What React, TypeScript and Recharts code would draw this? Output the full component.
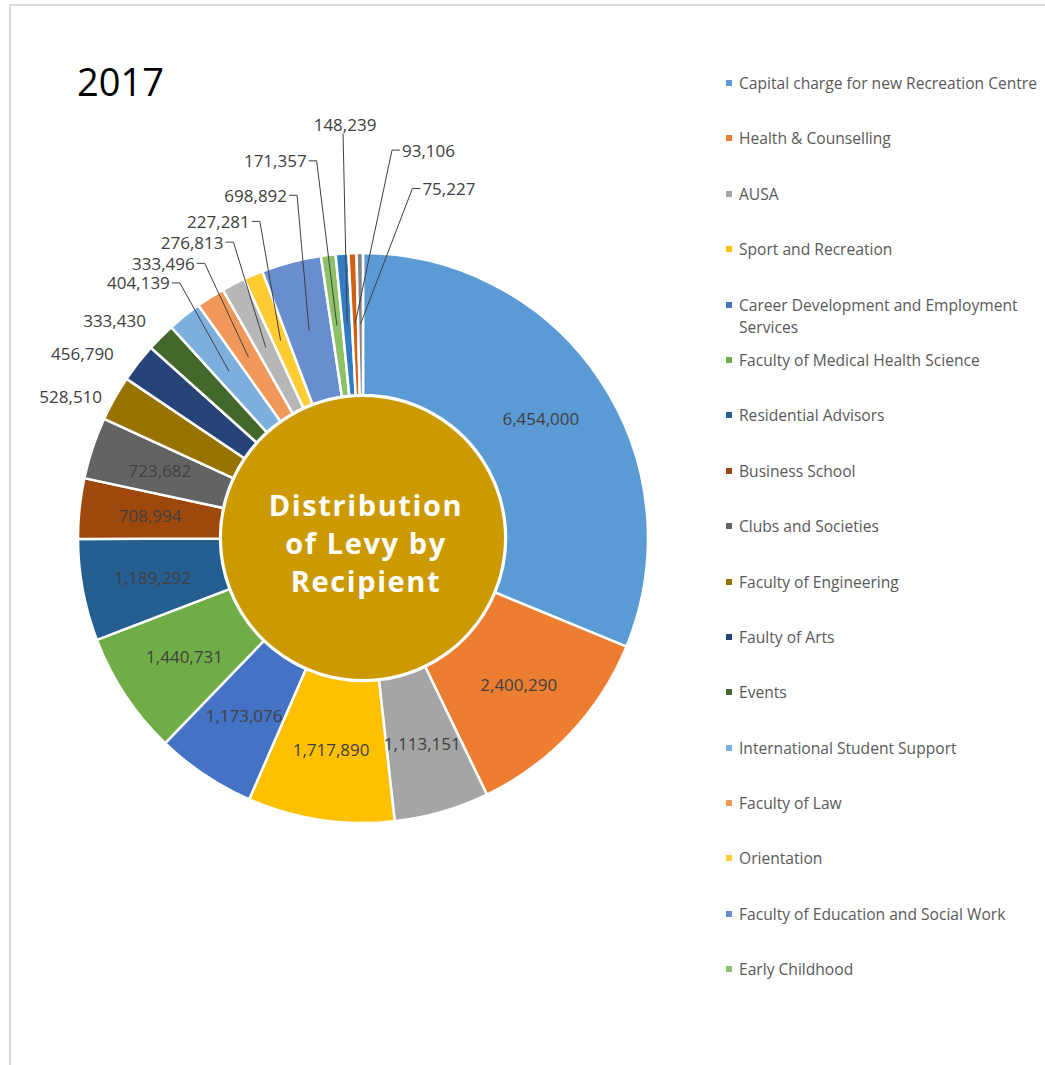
import React from "react";
import { PieChart, Pie, Cell } from "recharts";

// clockwise from 12 o'clock, same order as the slices in the picture
const recipients = [
  "Capital charge for new Recreation Centre",
  "Health & Counselling",
  "AUSA",
  "Sport and Recreation",
  "Career Development and Employment Services",
  "Faculty of Medical Health Science",
  "Residential Advisors",
  "Business School",
  "Clubs and Societies",
  "Faculty of Engineering",
  "Faulty of Arts",
  "Events",
  "International Student Support",
  "Faculty of Law",
  "", // not in the legend
  "Orientation",
  "Faculty of Education and Social Work",
  "Early Childhood",
  "",
  "",
  "",
];

const amounts = [
  6454000, 2400290, 1113151, 1717890, 1173076, 1440731, 1189292, 708994, 723682, 528510,
  456790, 333430, 404139, 333496, 276813, 227281, 698892, 171357, 148239, 93106, 75227,
];

// Excel 2013 default series colours
const sliceColors = [
  "#5B9BD5", "#ED7D31", "#A5A5A5", "#FFC000", "#4472C4", "#70AD47",
  "#255E91", "#9E480E", "#636363", "#997300", "#264478", "#43682B",
  "#7CAFDD", "#F1975A", "#B7B7B7", "#FFCD33", "#698ED0", "#8CC168",
  "#327DC2", "#D26012", "#848484",
];

const yearLabel = "2017";
const centreTitle = ["Distribution", "of Levy by", "Recipient"];

const data = amounts.map((v, i) => ({ name: recipients[i], value: v }));
const centre = [{ name: "centre", value: 1 }];

// outside labels: [px beyond outer radius, clockwise shift in degrees, leader line]
const labelHints: Record<number, [number, number, boolean]> = {
  9: [12, -0.8, false],
  10: [25, -1.4, false],
  11: [22, 0.2, false],
  12: [29, 3.1, true],
  13: [32, 2.4, true],
  14: [38, 3.4, true],
  15: [48, 4.6, true],
  16: [64, 3.7, true],
  17: [95, 0, true],
  18: [120, 1.4, true],
  19: [104, 6.4, true],
  20: [68, 8.7, true],
};

const FONT = "'Open Sans', 'Noto Sans', sans-serif";
const LABEL_COLOR = "#404040";
const RAD = Math.PI / 180;

const polar = (cx: number, cy: number, r: number, angle: number) => ({
  x: cx + r * Math.cos(-angle * RAD),
  y: cy + r * Math.sin(-angle * RAD),
});

const renderLabel = (props: any) => {
  const { cx, cy, midAngle, innerRadius, outerRadius, value, index } = props;
  const text = Number(value).toLocaleString("en-US");
  const mid = (innerRadius + outerRadius) / 2;
  const style = { fontFamily: FONT, fontSize: 17, fill: LABEL_COLOR };
  const hint = labelHints[index];

  if (!hint) {
    const p = polar(cx, cy, mid, midAngle);
    return (
      <text x={p.x} y={p.y} textAnchor="middle" dominantBaseline="central" style={style}>
        {text}
      </text>
    );
  }

  const [dr, shift, line] = hint;
  const a = polar(cx, cy, outerRadius + dr, midAngle - shift);
  if (!line) {
    return (
      <text x={a.x} y={a.y} textAnchor="end" dominantBaseline="central" style={style}>
        {text}
      </text>
    );
  }

  const end = polar(cx, cy, mid, midAngle);
  const dx = a.x - cx;
  if (Math.abs(dx) < 25) {
    return (
      <g>
        <path d={`M${a.x},${a.y}L${end.x},${end.y}`} stroke={LABEL_COLOR} strokeWidth={1} fill="none" />
        <text x={a.x + 2} y={a.y - 9} textAnchor="middle" dominantBaseline="central" style={style}>
          {text}
        </text>
      </g>
    );
  }
  const left = dx < 0;
  const tick = left ? a.x - 8 : a.x + 8;
  return (
    <g>
      <path
        d={`M${tick},${a.y}L${a.x},${a.y}L${end.x},${end.y}`}
        stroke={LABEL_COLOR}
        strokeWidth={1}
        fill="none"
      />
      <text
        x={left ? a.x - 10 : a.x + 10}
        y={a.y}
        textAnchor={left ? "end" : "start"}
        dominantBaseline="central"
        style={style}
      >
        {text}
      </text>
    </g>
  );
};

const renderCentre = (props: any) => {
  const { cx, cy } = props;
  return (
    <g>
      {centreTitle.map((t, i) => (
        <text
          key={t}
          x={cx + 3}
          y={cy + 4 + (i - 1) * 38}
          textAnchor="middle"
          dominantBaseline="central"
          style={{ fontFamily: FONT, fontSize: 29, fontWeight: 700, fill: "#fff", letterSpacing: 1.6 }}
        >
          {t}
        </text>
      ))}
    </g>
  );
};

export default function App() {
  const legendItems = data
    .map((d, i) => ({ name: d.name, color: sliceColors[i] }))
    .filter((d) => d.name !== "");

  return (
    <div
      style={{
        position: "fixed",
        left: 0,
        top: 0,
        width: 1045,
        height: 1065,
        overflow: "hidden",
        background: "#fff",
        fontFamily: FONT,
      }}
    >
      {/* chart area frame */}
      <div
        style={{
          position: "absolute",
          left: 9,
          top: 4,
          width: 1100,
          height: 1100,
          borderTop: "2px solid #dadada",
          borderLeft: "2px solid #dadada",
        }}
      />
      <div
        style={{
          position: "absolute",
          left: 77,
          top: 58,
          fontSize: 38,
          lineHeight: "46px",
          color: "#000",
        }}
      >
        {yearLabel}
      </div>

      <div style={{ position: "absolute", left: 0, top: 0 }}>
        <PieChart width={700} height={1065} margin={{ top: 0, right: 0, bottom: 0, left: 0 }}>
          <Pie
            data={centre}
            dataKey="value"
            cx={363}
            cy={538}
            innerRadius={0}
            outerRadius={141}
            startAngle={90}
            endAngle={-270}
            fill="#CC9A00"
            stroke="none"
            label={renderCentre}
            labelLine={false}
            isAnimationActive={false}
          />
          <Pie
            data={data}
            dataKey="value"
            cx={363}
            cy={538}
            innerRadius={143}
            outerRadius={285}
            startAngle={90}
            endAngle={-270}
            stroke="#fff"
            strokeWidth={2.5}
            label={renderLabel}
            labelLine={false}
            isAnimationActive={false}
          >
            {data.map((d, i) => (
              <Cell key={i} fill={sliceColors[i]} />
            ))}
          </Pie>
        </PieChart>
      </div>

      {/* legend */}
      <div style={{ position: "absolute", left: 726, top: 72 }}>
        {legendItems.map((item) => (
          <div key={item.name} style={{ height: 55.4, display: "flex", alignItems: "flex-start" }}>
            <span
              style={{
                width: 6,
                height: 6,
                marginTop: 8,
                marginRight: 7,
                background: item.color,
                flex: "none",
              }}
            />
            <span style={{ width: 306, fontSize: 15.6, lineHeight: "22px", color: "#595959" }}>
              {item.name}
            </span>
          </div>
        ))}
      </div>
    </div>
  );
}
